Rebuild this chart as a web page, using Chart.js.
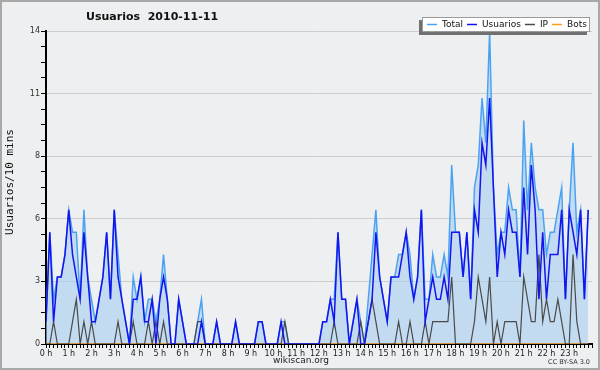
<!DOCTYPE html>
<html>
<head>
<meta charset="utf-8">
<title>Usuarios 2010-11-11</title>
<script src="https://cdn.jsdelivr.net/npm/chart.js@4.4.0/dist/chart.umd.min.js"></script>
<style>
  html, body { margin: 0; padding: 0; background: #eeeff1; }
  canvas { display: block; }
</style>
</head>
<body>
<canvas id="chart" width="600" height="370"></canvas>
<script>
// Data: one value per 10 minutes, from 0 h 00 to 23 h 50
const total = [
  1, 5, 2, 3, 3, 4, 6, 5, 5, 2, 6, 3,
  2, 1, 2, 3, 5, 2, 6, 4, 2, 1, 0, 3,
  2, 3, 1, 2, 2, 1, 2, 4, 2, 0, 0, 2,
  1, 0, 0, 0, 1, 2, 0, 0, 0, 1, 0, 0,
  0, 0, 1, 0, 0, 0, 0, 0, 1, 1, 0, 0,
  0, 0, 1, 1, 0, 0, 0, 0, 0, 0, 0, 0,
  0, 1, 1, 2, 2, 5, 2, 2, 0, 1, 2, 1,
  0, 2, 4, 6, 3, 2, 1, 3, 3, 4, 4, 5,
  4, 2, 3, 6, 2, 2, 4, 3, 3, 4, 3, 8,
  5, 5, 3, 5, 2, 7, 8, 11, 9, 14, 7, 4,
  5, 5, 7, 6, 6, 3, 10, 6, 9, 7, 6, 6,
  4, 5, 5, 6, 7, 2, 6, 9, 5, 6, 2, 6,
];
const usuarios = [
  1, 5, 1, 3, 3, 4, 6, 4, 3, 2, 5, 3,
  1, 1, 2, 3, 5, 2, 6, 3, 2, 1, 0, 2,
  2, 3, 1, 1, 2, 0, 2, 3, 2, 0, 0, 2,
  1, 0, 0, 0, 0, 1, 0, 0, 0, 1, 0, 0,
  0, 0, 1, 0, 0, 0, 0, 0, 1, 1, 0, 0,
  0, 0, 1, 0, 0, 0, 0, 0, 0, 0, 0, 0,
  0, 1, 1, 2, 1, 5, 2, 2, 0, 1, 2, 0,
  0, 1, 2, 5, 3, 2, 1, 3, 3, 3, 4, 5,
  3, 2, 3, 6, 1, 2, 3, 2, 2, 3, 2, 5,
  5, 5, 3, 5, 2, 6, 5, 9, 8, 11, 7, 3,
  5, 4, 6, 5, 5, 3, 7, 4, 8, 6, 2, 5,
  2, 4, 4, 4, 6, 2, 6, 5, 4, 6, 2, 6,
];
const ip = [
  0, 0, 1, 0, 0, 0, 0, 1, 2, 0, 1, 0,
  1, 0, 0, 0, 0, 0, 0, 1, 0, 0, 0, 1,
  0, 0, 0, 1, 0, 1, 0, 1, 0, 0, 0, 0,
  0, 0, 0, 0, 1, 1, 0, 0, 0, 0, 0, 0,
  0, 0, 0, 0, 0, 0, 0, 0, 0, 0, 0, 0,
  0, 0, 0, 1, 0, 0, 0, 0, 0, 0, 0, 0,
  0, 0, 0, 0, 1, 0, 0, 0, 0, 0, 0, 1,
  0, 1, 2, 1, 0, 0, 0, 0, 0, 1, 0, 0,
  1, 0, 0, 0, 1, 0, 1, 1, 1, 1, 1, 3,
  0, 0, 0, 0, 0, 1, 3, 2, 1, 3, 0, 1,
  0, 1, 1, 1, 1, 0, 3, 2, 1, 1, 4, 1,
  2, 1, 1, 2, 1, 0, 0, 4, 1, 0, 0, 0,
];
const bots = [
  0, 0, 0, 0, 0, 0, 0, 0, 0, 0, 0, 0,
  0, 0, 0, 0, 0, 0, 0, 0, 0, 0, 0, 0,
  0, 0, 0, 0, 0, 0, 0, 0, 0, 0, 0, 0,
  0, 0, 0, 0, 0, 0, 0, 0, 0, 0, 0, 0,
  0, 0, 0, 0, 0, 0, 0, 0, 0, 0, 0, 0,
  0, 0, 0, 0, 0, 0, 0, 0, 0, 0, 0, 0,
  0, 0, 0, 0, 0, 0, 0, 0, 0, 0, 0, 0,
  0, 0, 0, 0, 0, 0, 0, 0, 0, 0, 0, 0,
  0, 0, 0, 0, 0, 0, 0, 0, 0, 0, 0, 0,
  0, 0, 0, 0, 0, 0, 0, 0, 0, 0, 0, 0,
  0, 0, 0, 0, 0, 0, 0, 0, 0, 0, 0, 0,
  0, 0, 0, 0, 0, 0, 0, 0, 0, 0, 0, 0,
];

// Tick labels
const hourLabels = [
  "0 h", "1 h", "2 h", "3 h", "4 h", "5 h", "6 h", "7 h", "8 h", "9 h", "10 h", "11 h",
  "12 h", "13 h", "14 h", "15 h", "16 h", "17 h", "18 h", "19 h", "20 h", "21 h", "22 h", "23 h",
];
const yTickLabels = ["0", "3", "6", "8", "11", "14"];

// Colours
const totalColor = "#4aa3f2";
const totalFill = "rgba(168, 206, 240, 0.62)";
const usuariosColor = "#1414ee";
const ipColor = "#4a4a4a";
const botsColor = "#ff9a1a";

const legendItems = [
  { label: "Total", color: totalColor },
  { label: "Usuarios", color: usuariosColor },
  { label: "IP", color: ipColor },
  { label: "Bots", color: botsColor },
];

function toPoints(values) {
  return values.map((v, i) => ({ x: i, y: v }));
}

// Background, frame, title, legend box and footer
const decorations = {
  id: "decorations",
  beforeDraw(chart) {
    const ctx = chart.ctx;
    ctx.save();
    ctx.fillStyle = "#eeeff1";
    ctx.fillRect(0, 0, chart.width, chart.height);
    ctx.restore();
  },
  afterDraw(chart) {
    const ctx = chart.ctx;
    ctx.save();

    // frame
    ctx.strokeStyle = "#a8a8a8";
    ctx.lineWidth = 2;
    ctx.strokeRect(1, 1, chart.width - 2, chart.height - 2);

    // title
    ctx.fillStyle = "#111";
    ctx.font = "bold 11px 'DejaVu Sans'";
    ctx.textAlign = "left";
    ctx.textBaseline = "middle";
    ctx.fillText("Usuarios  2010-11-11", 86, 17);

    // y axis title
    ctx.save();
    ctx.translate(10, 182);
    ctx.rotate(-Math.PI / 2);
    ctx.font = "11px 'DejaVu Sans Mono'";
    ctx.textAlign = "center";
    ctx.fillStyle = "#111";
    ctx.fillText("Usuarios/10 mins", 0, 0);
    ctx.restore();

    // footer
    ctx.font = "9px 'DejaVu Sans'";
    ctx.textAlign = "center";
    ctx.fillStyle = "#222";
    ctx.fillText("wikiscan.org", 301, 361);
    ctx.font = "6.5px 'DejaVu Sans'";
    ctx.textAlign = "right";
    ctx.fillStyle = "#333";
    ctx.fillText("CC BY-SA 3.0", 590, 362);

    // legend box with shadow
    ctx.fillStyle = "#707070";
    ctx.fillRect(419, 20, 168, 15);
    ctx.fillStyle = "#ffffff";
    ctx.fillRect(422, 17, 168, 15);
    ctx.strokeStyle = "#9a9a9a";
    ctx.lineWidth = 1;
    ctx.strokeRect(422.5, 17.5, 167, 14);

    ctx.font = "9px 'DejaVu Sans'";
    ctx.textAlign = "left";
    let x = 427;
    legendItems.forEach((item) => {
      ctx.strokeStyle = item.color;
      ctx.lineWidth = 1.5;
      ctx.beginPath();
      ctx.moveTo(x, 24.5);
      ctx.lineTo(x + 10, 24.5);
      ctx.stroke();
      ctx.fillStyle = "#111";
      ctx.fillText(item.label, x + 15, 25);
      x += 15 + ctx.measureText(item.label).width + 4;
    });

    ctx.restore();
  },
};

const ctx = document.getElementById("chart").getContext("2d");
new Chart(ctx, {
  type: "line",
  data: {
    datasets: [
      {
        label: "Usuarios",
        data: toPoints(usuarios),
        borderColor: usuariosColor,
        borderWidth: 1.5,
        fill: false,
        order: 0,
      },
      {
        label: "IP",
        data: toPoints(ip),
        borderColor: ipColor,
        borderWidth: 1.2,
        fill: false,
        order: 1,
      },
      {
        label: "Bots",
        data: toPoints(bots),
        borderColor: botsColor,
        borderWidth: 1.5,
        fill: false,
        order: 2,
      },
      {
        label: "Total",
        data: toPoints(total),
        borderColor: totalColor,
        backgroundColor: totalFill,
        borderWidth: 1.5,
        fill: "origin",
        order: 3,
      },
    ],
  },
  options: {
    responsive: false,
    animation: false,
    elements: {
      point: { radius: 0 },
      line: { tension: 0 },
    },
    layout: { padding: { top: 31, right: 8, left: 0, bottom: 0 } },
    plugins: {
      legend: { display: false },
      tooltip: { enabled: false },
    },
    scales: {
      x: {
        type: "linear",
        min: 0,
        max: 144,
        z: 1,
        afterFit: (scale) => {
          scale.height = 26;
        },
        border: { color: "#000", width: 2 },
        grid: {
          drawOnChartArea: false,
          color: "#000",
          tickColor: "#000",
          tickLength: 4,
        },
        ticks: {
          stepSize: 1,
          autoSkip: false,
          maxRotation: 0,
          padding: 1,
          color: "#222",
          font: { family: "DejaVu Sans", size: 8 },
          callback: (value) =>
            value % 6 === 0 && value < 144 ? hourLabels[value / 6] : "",
        },
      },
      y: {
        min: 0,
        max: 14,
        afterFit: (scale) => {
          scale.width = 46;
        },
        border: { color: "#000", width: 2 },
        grid: {
          color: (c) =>
            c.index > 0 && c.index % 4 === 0 ? "#cdcdcd" : "rgba(0,0,0,0)",
          tickColor: "#000",
          tickLength: 5,
        },
        ticks: {
          stepSize: 0.7,
          autoSkip: false,
          padding: 1,
          color: "#333",
          font: { family: "DejaVu Sans", size: 8 },
          callback: (value, index) =>
            index % 4 === 0 ? yTickLabels[index / 4] : "",
        },
      },
    },
  },
  plugins: [decorations],
});
</script>
</body>
</html>
